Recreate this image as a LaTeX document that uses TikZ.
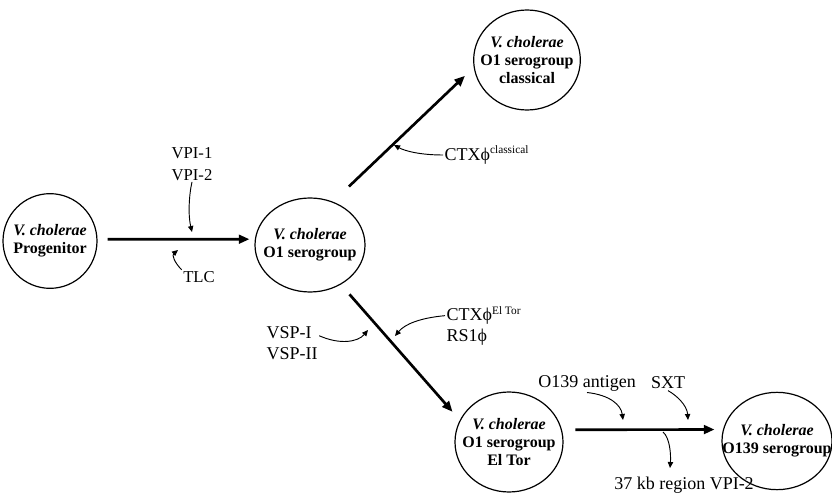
\documentclass[tikz,border=0pt]{standalone}
\usepackage{fontspec}
\setmainfont{Liberation Serif}
\usetikzlibrary{shapes.geometric,arrows.meta}

\def\mypxscale{0.75}
\newcommand{\ctxsup}[1]{\raisebox{0.75ex}{\fontsize{8.5}{9}\selectfont #1}}

\tikzset{
  cell/.style={ellipse, draw, line width=0.9pt, inner sep=0pt},
  celltext/.style={align=center, font=\fontsize{12}{13.5}\selectfont\bfseries},
  tag/.style={font=\fontsize{13.5}{16}\selectfont, inner sep=1pt},
  smalltag/.style={font=\fontsize{12.5}{16}\selectfont, inner sep=1pt},
  mainarrow/.style={line width=2pt, -{Triangle[length=8pt,width=6.5pt]}},
  thinarrow/.style={line width=0.7pt, -{Triangle[length=4.5pt,width=4pt]}},
}

\begin{document}
\begin{tikzpicture}[x=\mypxscale pt, y=-\mypxscale pt]
\useasboundingbox (0,0) rectangle (832,495);
\clip (0,0) rectangle (832,495);

% the five strains
\node [cell, minimum width=70.5pt, minimum height=71pt,
  label={[celltext]center:{\textit{V. cholerae}\\Progenitor}}] (prog) at (50,241) {};
\node [cell, minimum width=82.5pt, minimum height=70.5pt,
  label={[celltext]center:{\textit{V. cholerae}\\O1 serogroup}}] (sero) at (310,245) {};
\node [cell, minimum width=80pt, minimum height=75pt,
  label={[celltext]center:{\textit{V. cholerae}\\O1 serogroup\\classical}}] (clas) at (527,60) {};
\node [cell, minimum width=81pt, minimum height=75pt,
  label={[celltext]center:{\textit{V. cholerae}\\O1 serogroup\\El Tor}}] (eltor) at (509,442) {};
\node [cell, minimum width=82.5pt, minimum height=73pt,
  label={[celltext]center:{\textit{V. cholerae}\\O139 serogroup}}] (otn) at (777,441) {};

% main steps
\draw [mainarrow, shorten <=7.5pt, shorten >=4pt] (prog.2) -- (sero.174);
\draw [mainarrow, shorten <=16.5pt, shorten >=9pt] (sero.62) -- (clas.188);
\draw [mainarrow, shorten <=9.75pt, shorten >=8.25pt] (sero.308) -- (eltor.156);
\draw [mainarrow, shorten <=10pt, shorten >=6.3pt] (eltor.13) -- (otn.168);

% acquired elements
\node [smalltag, align=center] (vpi) at (192,164) {VPI-1\\VPI-2};
\node [smalltag] (tlc) at (199,277) {TLC};
\node [tag, anchor=west] (ctxc) at (443,155) {CTXϕ\ctxsup{classical}};
\node [tag, anchor=west, align=left] (vsp) at (265,343) {VSP-I\\VSP-II};
\node [tag, anchor=west, align=left] (ctxe) at (445,326) {CTXϕ\ctxsup{El Tor}\\RS1ϕ};
\node [tag] (antigen) at (587,383) {O139 antigen};
\node [tag] (sxt) at (668,383) {SXT};
\node [tag] (region) at (684,485) {37 kb region VPI-2};

\coordinate (vpitip) at (192,232);
\coordinate (tlctip) at (178,250);
\coordinate (ctxctip) at (394,145);
\coordinate (vsptip) at (368,330);
\coordinate (ctxetip) at (395,336);
\coordinate (antigentip) at (623,420);
\coordinate (sxttip) at (688,420);
\coordinate (regionfoot) at (663,432);
\coordinate (regiontip) at (670,468);

\draw [thinarrow] (vpi.south) .. controls (189,195) and (188,215) .. (vpitip);
\draw [thinarrow] (tlc.north west) .. controls (174,262) and (172,255) .. (tlctip);
\draw [thinarrow] (ctxc.west) .. controls (420,155) and (405,151) .. (ctxctip);
\draw [thinarrow] (vsp.15) .. controls (340,345) and (358,342) .. (vsptip);
\draw [thinarrow] (ctxe.165) .. controls (420,318) and (405,324) .. (ctxetip);
\draw [thinarrow] (antigen.south) .. controls (610,395) and (621,405) .. (antigentip);
\draw [thinarrow] (sxt.south) .. controls (676,395) and (687,405) .. (sxttip);
\draw [thinarrow] (regionfoot) .. controls (670,438) and (671,455) .. (regiontip);
\end{tikzpicture}
\end{document}
